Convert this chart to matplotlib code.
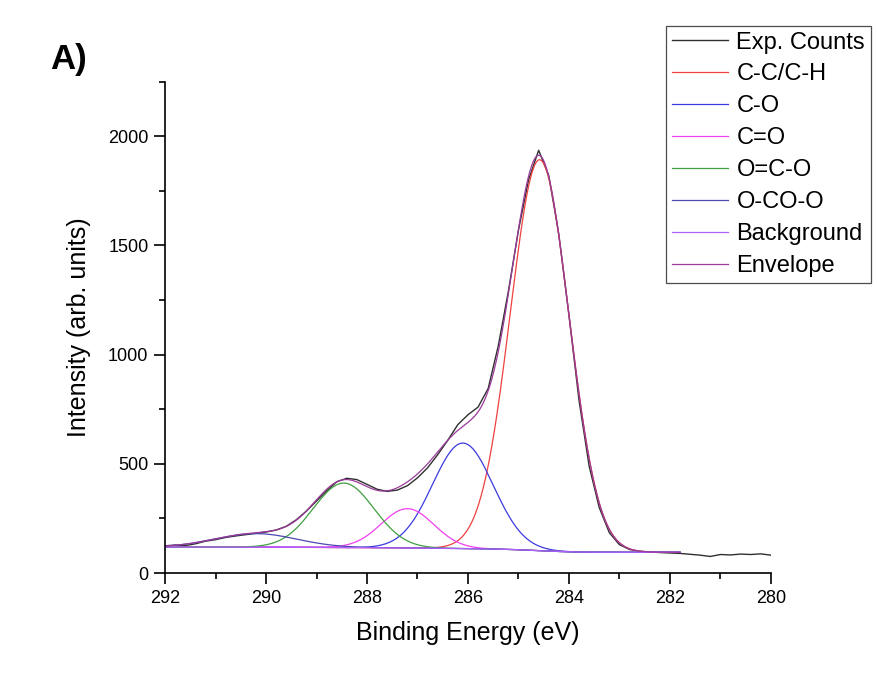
import numpy as np
import matplotlib
matplotlib.use('Agg')
import matplotlib.pyplot as plt
from matplotlib.ticker import MultipleLocator

plt.rcParams['font.family'] = ['Liberation Sans', 'DejaVu Sans']

# experimental C1s counts, read every 0.2 eV from 292 down to 280
be_exp = np.round(np.arange(292.0, 279.99, -0.2), 1)
counts = [125, 128, 126, 134, 146, 153, 163, 170, 176, 182,
          188, 197, 214, 244, 284, 330, 376, 418, 434, 428,
          406, 384, 374, 380, 400, 436, 482, 542, 608, 680,
          725, 760, 845, 1040, 1290, 1570, 1800, 1936, 1820, 1550,
          1180, 790, 490, 300, 185, 130, 108, 100, 97, 94,
          92, 90, 86, 82, 76, 85, 83, 87, 85, 88,
          82]

# fitted components: name, centre (eV), height above background, sigma (eV)
comp_names = ['C-C/C-H', 'C-O', 'C=O', 'O=C-O', 'O-CO-O']
comp_centre = [284.58, 286.10, 287.20, 288.46, 290.20]
comp_height = [1790, 483, 180, 295, 62]
comp_sigma = [0.58, 0.60, 0.52, 0.60, 0.80]
comp_colors = ['#f04040', '#3a3ae0', '#f040f0', '#40a040', '#4a4ab0']

bg_high = 119   # background level at high BE side
bg_low = 95     # background level at low BE side

fit_lo, fit_hi = 281.8, 292.0

# --- fit curves (Shirley-type background + gaussians) ---
e = np.linspace(fit_lo, fit_hi, 600)
peaks = [h * np.exp(-(e - c) ** 2 / (2 * s ** 2))
         for c, h, s in zip(comp_centre, comp_height, comp_sigma)]
total = np.sum(peaks, axis=0)
cum = np.cumsum(total)
bg = bg_low + (bg_high - bg_low) * cum / cum[-1]
envelope = bg + total

fig = plt.figure(figsize=(8.78, 6.75), dpi=100)
ax = fig.add_axes([0.188, 0.151, 0.690, 0.728])

ax.plot(be_exp, counts, color='#303030', lw=1.0, label='Exp. Counts')
for p, name, col in zip(peaks, comp_names, comp_colors):
    ax.plot(e, bg + p, color=col, lw=0.9, label=name)
ax.plot(e, bg, color='#b060ff', lw=0.9, label='Background')
ax.plot(e, envelope, color='#9a3a9a', lw=0.9, label='Envelope')

ax.set_xlim(292, 280)
ax.set_ylim(0, 2250)
ax.xaxis.set_major_locator(MultipleLocator(2))
ax.xaxis.set_minor_locator(MultipleLocator(1))
ax.yaxis.set_major_locator(MultipleLocator(500))
ax.yaxis.set_minor_locator(MultipleLocator(250))
ax.tick_params(which='major', direction='out', length=8, width=1.2, labelsize=13, pad=4)
ax.tick_params(which='minor', direction='out', length=4.5, width=1.2)
for side in ['top', 'right']:
    ax.spines[side].set_visible(False)
for side in ['left', 'bottom']:
    ax.spines[side].set_linewidth(1.2)

ax.set_xlabel('Binding Energy (eV)', fontsize=18)
ax.set_ylabel('Intensity (arb. units)', fontsize=18)
ax.xaxis.set_label_coords(0.5, -0.098)
ax.yaxis.set_label_coords(-0.123, 0.5)

fig.text(0.057, 0.898, 'A)', fontsize=25, fontweight='bold')

leg = fig.legend(loc='upper right', bbox_to_anchor=(0.992, 0.962), fontsize=17,
                 frameon=True, fancybox=False, edgecolor='#202020',
                 handlelength=2.4, handletextpad=0.35, labelspacing=0.42,
                 borderpad=0.25, borderaxespad=0)
leg.get_frame().set_linewidth(0.9)

fig.savefig('out.png', dpi=100)
